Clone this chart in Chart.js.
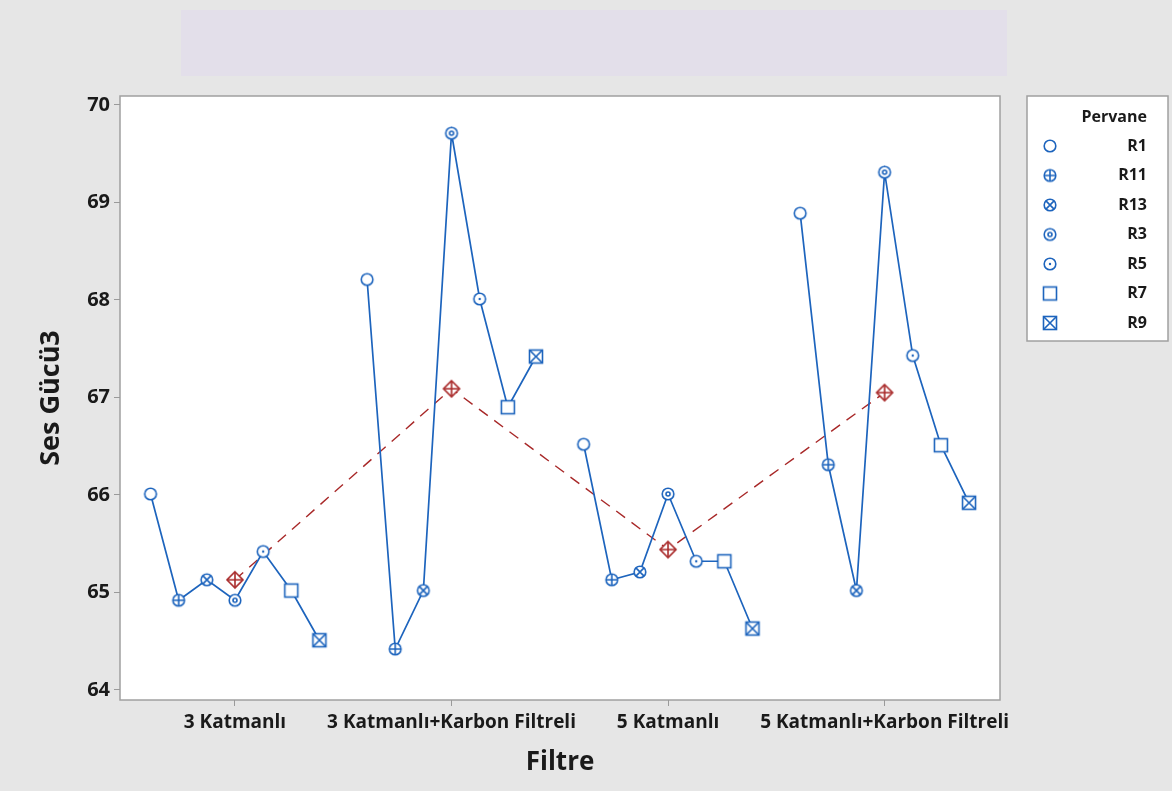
<!DOCTYPE html>
<html>
<head>
<meta charset="utf-8">
<script src="https://cdn.jsdelivr.net/npm/chart.js@4.4.0/dist/chart.umd.min.js"></script>
<style>
  html, body { margin: 0; padding: 0; background: #e6e6e6; }
  #wrap { width: 1172px; height: 791px; position: relative; }
</style>
</head>
<body>
<div id="wrap"><canvas id="chart" width="1172" height="791"></canvas></div>
<script>
// data
const filtreler = ["3 Katmanlı", "3 Katmanlı+Karbon Filtreli", "5 Katmanlı", "5 Katmanlı+Karbon Filtreli"];
const pervaneler = ["R1", "R11", "R13", "R3", "R5", "R7", "R9"];
const katman3 = [66.01, 64.92, 65.13, 64.92, 65.42, 65.02, 64.51];
const katman3Karbon = [68.21, 64.42, 65.02, 69.71, 68.01, 66.90, 67.42];
const katman5 = [66.52, 65.13, 65.21, 66.01, 65.32, 65.32, 64.63];
const katman5Karbon = [68.89, 66.31, 65.02, 69.31, 67.43, 66.51, 65.92];
const ortalamalar = [65.13, 67.09, 65.44, 67.05];
const yTicks = [64, 65, 66, 67, 68, 69, 70];

const groups = [katman3, katman3Karbon, katman5, katman5Karbon];
const markerKinds = ["circle", "circlePlus", "circleCross", "circleRing", "circleDot", "square", "squareCross"];

const blue = "#1d64bd";
const red = "#a82828";
const font = "'Open Sans', sans-serif";
const step = 0.13; // spacing of pervane points inside a filter group

function marker(kind, color) {
  const c = document.createElement("canvas");
  c.width = 20; c.height = 20;
  const g = c.getContext("2d");
  g.strokeStyle = color;
  g.fillStyle = "#fff";
  g.lineWidth = 1.6;
  const m = 10, r = 5.8;
  if (kind.startsWith("circle")) {
    g.beginPath(); g.arc(m, m, r, 0, Math.PI * 2); g.fill(); g.stroke();
    if (kind === "circlePlus") {
      g.beginPath();
      g.moveTo(m - r, m); g.lineTo(m + r, m);
      g.moveTo(m, m - r); g.lineTo(m, m + r);
      g.stroke();
    } else if (kind === "circleCross") {
      const d = r * 0.7;
      g.beginPath();
      g.moveTo(m - d, m - d); g.lineTo(m + d, m + d);
      g.moveTo(m + d, m - d); g.lineTo(m - d, m + d);
      g.stroke();
    } else if (kind === "circleRing") {
      g.beginPath(); g.arc(m, m, 2, 0, Math.PI * 2); g.stroke();
    } else if (kind === "circleDot") {
      g.fillStyle = color;
      g.beginPath(); g.arc(m, m, 1.2, 0, Math.PI * 2); g.fill();
    }
  } else if (kind.startsWith("square")) {
    const s = 6.5;
    g.fillRect(m - s, m - s, s * 2, s * 2);
    g.strokeRect(m - s, m - s, s * 2, s * 2);
    if (kind === "squareCross") {
      g.beginPath();
      g.moveTo(m - s, m - s); g.lineTo(m + s, m + s);
      g.moveTo(m + s, m - s); g.lineTo(m - s, m + s);
      g.stroke();
    }
  } else if (kind === "diamondPlus") {
    const d = 8;
    g.beginPath();
    g.moveTo(m, m - d); g.lineTo(m + d, m); g.lineTo(m, m + d); g.lineTo(m - d, m); g.closePath();
    g.fill(); g.stroke();
    g.beginPath();
    g.moveTo(m - d, m); g.lineTo(m + d, m);
    g.moveTo(m, m - d); g.lineTo(m, m + d);
    g.stroke();
  }
  return c;
}

const blueMarkers = markerKinds.map(k => marker(k, blue));
const meanMarker = marker("diamondPlus", red);

const datasets = groups.map((vals, gi) => ({
  label: filtreler[gi],
  data: vals.map((v, k) => ({ x: gi + 1 + (k - 3) * step, y: v })),
  borderColor: blue,
  borderWidth: 1.7,
  pointStyle: blueMarkers,
  pointRadius: 7,
  showLine: true,
  fill: false,
  order: 1
}));

datasets.push({
  label: "Ortalama",
  data: ortalamalar.map((v, i) => ({ x: i + 1, y: v })),
  borderColor: red,
  borderWidth: 1.4,
  borderDash: [11, 8],
  pointStyle: meanMarker,
  pointRadius: 8,
  showLine: true,
  fill: false,
  order: 2
});

const backdrop = {
  id: "backdrop",
  beforeDraw(chart) {
    const { ctx, chartArea: a } = chart;
    ctx.save();
    ctx.fillStyle = "#e6e6e6";
    ctx.fillRect(0, 0, chart.width, chart.height);
    ctx.fillStyle = "#e3dfea";
    ctx.fillRect(181, 10, 826, 66);
    ctx.fillStyle = "#fff";
    ctx.fillRect(a.left, a.top, a.right - a.left, a.bottom - a.top);
    ctx.strokeStyle = "#a0a0a0";
    ctx.lineWidth = 1.5;
    ctx.strokeRect(a.left, a.top, a.right - a.left, a.bottom - a.top);
    ctx.restore();
  },
  afterDraw(chart) {
    const ctx = chart.ctx;
    ctx.save();
    ctx.fillStyle = "#fff";
    ctx.fillRect(1027, 96, 141, 245);
    ctx.strokeStyle = "#a0a0a0";
    ctx.lineWidth = 1.5;
    ctx.strokeRect(1027, 96, 141, 245);
    ctx.fillStyle = "#1a1a1a";
    ctx.textAlign = "right";
    ctx.textBaseline = "middle";
    ctx.font = "bold 16px " + font;
    ctx.fillText("Pervane", 1147, 117);
    pervaneler.forEach((p, i) => {
      const y = 146 + i * 29.5;
      ctx.drawImage(blueMarkers[i], 1050 - 10, y - 10);
      ctx.fillText(p, 1147, y);
    });
    ctx.restore();
  }
};

new Chart(document.getElementById("chart"), {
  type: "scatter",
  data: { datasets },
  options: {
    responsive: false,
    animation: false,
    events: [],
    layout: { padding: { left: 35, right: 172, top: 96, bottom: 13 } },
    plugins: { legend: { display: false }, tooltip: { enabled: false } },
    scales: {
      x: {
        type: "linear",
        min: 0.469,
        max: 4.533,
        afterBuildTicks: s => { s.ticks = filtreler.map((f, i) => ({ value: i + 1 })); },
        afterFit: s => { s.height = 78; },
        ticks: {
          callback: v => filtreler[v - 1],
          color: "#1a1a1a",
          font: { family: font, size: 19, weight: "bold" },
          padding: 5,
          maxRotation: 0,
          autoSkip: false
        },
        grid: { drawOnChartArea: false, drawTicks: true, tickLength: 6, color: "#9a9a9a" },
        border: { display: false },
        title: { display: true, text: "Filtre", color: "#1a1a1a", font: { family: font, size: 26, weight: "bold" }, padding: 0 }
      },
      y: {
        min: 63.897,
        max: 70.092,
        afterBuildTicks: s => { s.ticks = yTicks.map(v => ({ value: v })); },
        afterFit: s => { s.width = 85; },
        ticks: {
          color: "#1a1a1a",
          font: { family: font, size: 20, weight: "bold" },
          padding: 4
        },
        grid: { drawOnChartArea: false, drawTicks: true, tickLength: 6, color: "#9a9a9a" },
        border: { display: false },
        title: { display: true, text: "Ses Gücü3", color: "#1a1a1a", font: { family: font, size: 27, weight: "bold" }, padding: 0 }
      }
    }
  },
  plugins: [backdrop]
});
</script>
</body>
</html>
